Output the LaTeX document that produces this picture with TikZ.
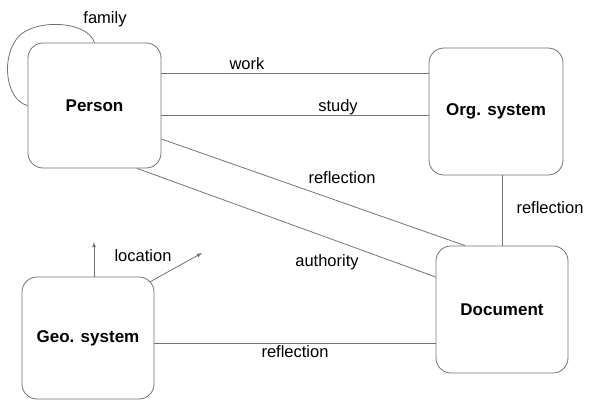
\documentclass[tikz,border=0pt]{standalone}
\usepackage{fontspec}
\setmainfont{Liberation Sans}
\usetikzlibrary{arrows}

\begin{document}
\begin{tikzpicture}[x=1pt,y=-1pt,
    entity/.style={draw=black!55, line width=0.8pt, rounded corners=15pt, fill=white,
                   font=\fontsize{17}{20}\selectfont\bfseries},
    rel/.style={draw=black!55, line width=0.8pt},
    lbl/.style={inner sep=0pt, font=\fontsize{16.5}{20}\selectfont}]
  \useasboundingbox (0,0) rectangle (589,401);
  % entities
  \node[entity, minimum width=133pt, minimum height=125pt] (person) at (94.5,105.5) {Person};
  \node[entity, minimum width=134pt, minimum height=127pt] (org) at (496,111.5) {Org. system};
  \node[entity, minimum width=132pt, minimum height=127pt] (doc) at (502,309.5) {Document};
  \node[entity, minimum width=132pt, minimum height=122pt] (geo) at (88,338) {Geo. system};
  % relations
  \draw[rel] ([yshift=32.5pt]person.east) coordinate (w1) -- (w1 -| org.west);
  \draw[rel] ([yshift=-9.5pt]person.east) coordinate (s1) -- (s1 -| org.west);
  \draw[rel] ([yshift=-33.5pt]person.east) -- ([xshift=-37pt]doc.north);
  \draw[rel] ([xshift=42.5pt]person.south) -- ([yshift=32.5pt]doc.west);
  \draw[rel] (doc.north) -- (doc.north |- org.south);
  \draw[rel] ([yshift=-5pt]geo.east) coordinate (g1) -- (g1 -| doc.west);
  \draw[rel] (person.north) .. controls (88,22) and (40,18) .. (20,35)
             .. controls (0,55) and (5,100) .. (person.west);
  % location
  \coordinate (locup) at (94,242);
  \coordinate (locne) at (202,253);
  \draw[rel, -latex] (locup |- geo.north) -- (locup);
  \draw[rel, -latex] ([shift={(-4pt,-5pt)}]geo.north east) -- (locne);
  % labels
  \node[lbl] (famlbl) at (105,19) {family};
  \node[lbl] (worklbl) at (247,64) {work};
  \node[lbl] (studylbl) at (338,107) {study};
  \node[lbl] (refpd) at (342,178) {reflection};
  \node[lbl] (authlbl) at (327,262) {authority};
  \node[lbl] (refod) at (550,208) {reflection};
  \node[lbl] (refgd) at (295,352) {reflection};
  \node[lbl] (loclbl) at (143,256) {location};
\end{tikzpicture}
\end{document}
